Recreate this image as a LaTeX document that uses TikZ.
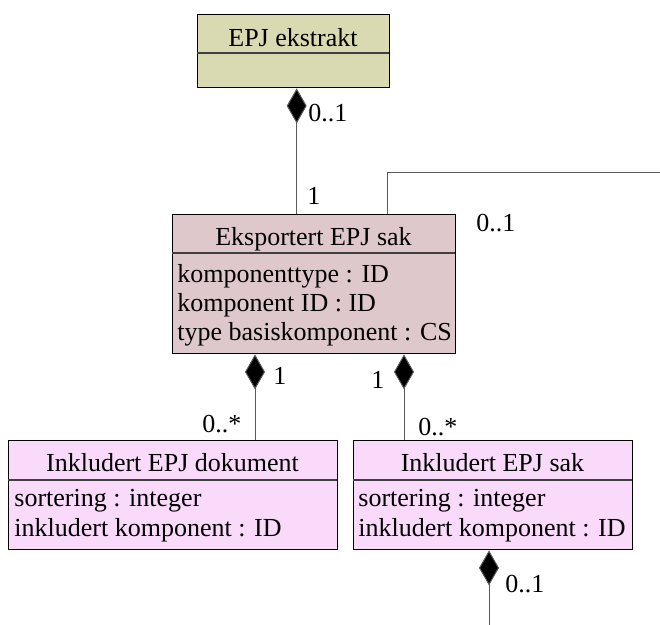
\documentclass[tikz,border=0pt]{standalone}
\usepackage{fontspec}
\setmainfont{Liberation Serif}
\usetikzlibrary{arrows.meta}
\definecolor{ekcol}{RGB}{218,218,178}
\definecolor{excol}{RGB}{223,200,204}
\definecolor{incol}{RGB}{250,218,250}
\definecolor{lncol}{RGB}{90,90,90}
\begin{document}
\begin{tikzpicture}[x=0.5pt,y=-0.5pt,
  umlbox/.style={draw=black, line width=0.7pt, inner sep=0pt, anchor=north west},
  divline/.style={draw=black!75, line width=0.6pt},
  txt/.style={inner sep=0pt, font=\fontsize{13}{15}\selectfont},
  conn/.style={draw=lncol, line width=0.5pt},
  comp/.style={conn, {Diamond[length=17.5pt, width=10pt, fill=black]}-},
]
\useasboundingbox (0,0) rectangle (660,625);
% EPJ ekstrakt
\node[umlbox, fill=ekcol, minimum width=96pt, minimum height=36.5pt] (ekstr) at (197,14) {};
\draw[divline] (197,53) -- (389,53);
\node[txt, anchor=base] (ekstrT) at (293,47) {EPJ ekstrakt};
% Eksportert EPJ sak
\node[umlbox, fill=excol, minimum width=141.5pt, minimum height=69.5pt] (eksp) at (172,214) {};
\draw[divline] (172,253) -- (455,253);
\node[txt, anchor=base] (ekspT) at (313.5,246) {Eksportert EPJ sak};
\node[txt, anchor=base west] (eksp1) at (177,283) {komponenttype : ID};
\node[txt, anchor=base west] (eksp2) at (177,312) {komponent ID : ID};
\node[txt, anchor=base west] (eksp3) at (177,341) {type basiskomponent : CS};
% Inkludert EPJ dokument
\node[umlbox, fill=incol, minimum width=164.5pt, minimum height=54.5pt] (idok) at (8,440) {};
\draw[divline] (8,480) -- (337,480);
\node[txt, anchor=base] (idokT) at (172.5,472) {Inkludert EPJ dokument};
\node[txt, anchor=base west] (idok1) at (14,507) {sortering : integer};
\node[txt, anchor=base west] (idok2) at (14,537) {inkludert komponent : ID};
% Inkludert EPJ sak
\node[umlbox, fill=incol, minimum width=139.5pt, minimum height=54.5pt] (isak) at (353,440) {};
\draw[divline] (353,480) -- (632,480);
\node[txt, anchor=base] (isakT) at (492.5,472) {Inkludert EPJ sak};
\node[txt, anchor=base west] (isak1) at (358,507) {sortering : integer};
\node[txt, anchor=base west] (isak2) at (358,537) {inkludert komponent : ID};
% connector coordinates
\coordinate (loopA) at (387,173);
\coordinate (loopB) at (660,173);
\coordinate (endB) at (489,625);
% connectors
\draw[comp] ([xshift=-(0.5*(293-296))*1pt]ekstr.south) -- ([xshift=-(0.5*(313.5-296))*1pt]eksp.north);
\draw[conn] ([xshift=107.5pt]eksp.north west) -- (loopA) -- (loopB);
\draw[comp] ([xshift=41.5pt]eksp.south west) -- ([xshift=123.5pt]idok.north west);
\draw[comp] ([xshift=116pt]eksp.south west) -- ([xshift=25.5pt]isak.north west);
\draw[comp] ([xshift=68pt]isak.south west) -- (endB);
% multiplicities
\node[txt, anchor=base west] (m1) at (308,122) {0..1};
\node[txt, anchor=base west] (m2) at (307,205) {1};
\node[txt, anchor=base west] (m3) at (476,232) {0..1};
\node[txt, anchor=base west] (m4) at (273,385) {1};
\node[txt, anchor=base west] (m5) at (202,433) {0..*};
\node[txt, anchor=base west] (m6) at (371,389) {1};
\node[txt, anchor=base west] (m7) at (418,436) {0..*};
\node[txt, anchor=base west] (m8) at (505,593) {0..1};
\end{tikzpicture}
\end{document}
